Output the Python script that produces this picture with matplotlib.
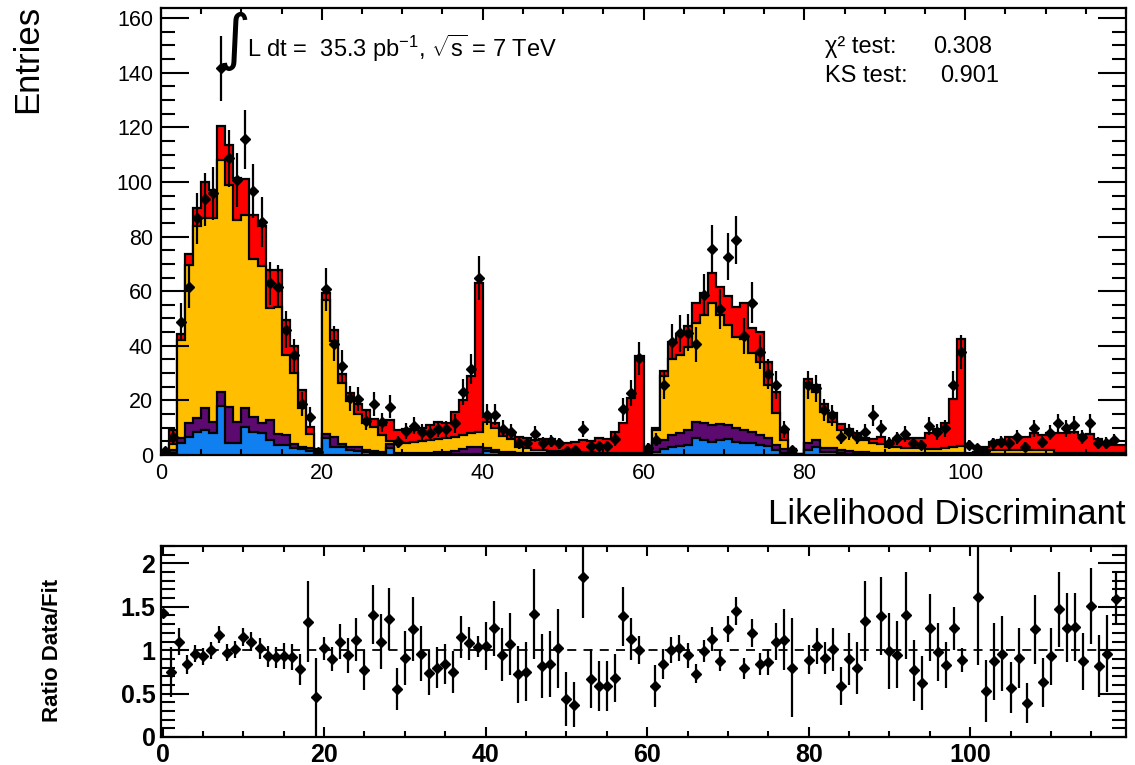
import numpy as np
import matplotlib
matplotlib.use("Agg")
import matplotlib.pyplot as plt
from matplotlib.ticker import MultipleLocator, FixedLocator, FuncFormatter

plt.rcParams['font.family'] = ['Liberation Sans', 'DejaVu Sans']
plt.rcParams['mathtext.fontset'] = 'custom'
plt.rcParams['mathtext.rm'] = 'Liberation Sans'
plt.rcParams['mathtext.it'] = 'Liberation Sans:italic'
plt.rcParams['mathtext.bf'] = 'Liberation Sans:bold'

# ---------------- data (bins of width 1 from 0 to 120) ----------------
bin_edges = np.arange(0, 121)

# cumulative stack levels
top_total = [
    1.0, 9.0, 44.2, 73.5, 90.3, 100.1, 97.0, 120.5, 113.5, 101.3,
    101.1, 87.9, 83.9, 67.8, 67.8, 49.4, 39.9, 23.8, 10.4, 2.2,
    59.4, 45.8, 29.7, 22.8, 18.7, 16.5, 13.1, 11.0, 12.8, 9.2,
    9.5, 9.2, 9.8, 11.0, 12.0, 11.6, 15.6, 20.0, 29.0, 63.1,
    14.0, 11.8, 9.2, 7.8, 6.5, 6.1, 5.5, 5.9, 6.0, 4.5,
    4.3, 4.9, 5.5, 5.2, 6.3, 6.0, 8.5, 11.8, 21.0, 36.3,
    1.0, 9.8, 30.8, 41.5, 44.3, 47.2, 55.8, 59.2, 66.5, 61.4,
    58.3, 54.3, 55.5, 46.4, 45.2, 34.2, 23.2, 8.5, 2.1, 0.4,
    28.0, 25.6, 18.7, 15.3, 11.3, 9.4, 7.9, 6.4, 5.7, 6.7,
    4.9, 6.0, 5.7, 6.1, 6.1, 8.2, 9.4, 11.6, 20.5, 42.5,
    0.6, 1.2, 2.8, 4.9, 5.5, 6.7, 6.7, 6.7, 7.9, 7.3,
    8.0, 8.0, 8.0, 8.6, 7.3, 7.7, 5.7, 4.7, 3.7, 3.7]

top_orange = [
    0.6, 4.0, 42.1, 69.6, 83.9, 86.7, 86.7, 108.0, 98.9, 86.1,
    87.9, 71.7, 69.2, 53.7, 54.1, 36.6, 30.2, 17.1, 7.6, 1.0,
    56.8, 41.9, 26.5, 19.9, 15.0, 11.6, 10.4, 7.3, 5.0, 4.9,
    4.5, 4.9, 5.1, 5.5, 5.7, 6.1, 6.7, 7.3, 7.9, 8.6,
    12.2, 9.8, 7.0, 5.8, 3.0, 2.5, 2.0, 1.8, 1.5, 1.5,
    1.2, 1.2, 1.0, 1.0, 0.9, 0.9, 0.9, 0.9, 0.9, 0.9,
    0.6, 9.2, 28.9, 35.0, 36.6, 39.7, 48.5, 51.3, 55.8, 51.3,
    47.6, 43.3, 42.4, 37.2, 34.2, 25.6, 15.3, 5.5, 1.6, 0.3,
    26.2, 23.2, 15.9, 12.2, 9.2, 7.9, 6.5, 5.5, 4.3, 4.0,
    3.0, 2.8, 2.7, 2.4, 2.4, 2.1, 2.1, 2.4, 3.0, 3.3,
    0.45, 0.7, 0.8, 1.8, 1.8, 1.9, 1.9, 1.9, 1.9, 1.8,
    1.8, 0.9, 0.9, 0.9, 0.9, 0.9, 0.9, 0.8, 0.8, 0.8]

top_purple = [
    0.3, 2.0, 6.1, 11.6, 13.4, 17.1, 12.2, 23.2, 17.7, 12.2,
    17.1, 14.0, 11.6, 12.8, 7.7, 7.3, 3.9, 3.1, 2.5, 0.6,
    7.6, 6.7, 4.0, 3.0, 2.8, 2.0, 1.4, 1.1, 4.0, 0.8,
    0.8, 0.8, 0.8, 0.9, 1.0, 1.2, 1.5, 2.2, 2.8, 3.0,
    2.5, 2.0, 1.2, 1.0, 0.8, 0.7, 0.7, 0.6, 0.6, 0.6,
    0.5, 0.5, 0.5, 0.5, 0.5, 0.5, 0.5, 0.5, 0.5, 0.5,
    0.4, 4.5, 5.5, 7.3, 7.9, 9.1, 12.2, 11.8, 11.0, 11.4,
    11.0, 9.8, 9.1, 8.5, 7.3, 6.1, 3.7, 2.1, 0.8, 0.2,
    4.5, 5.5, 2.7, 2.4, 1.8, 1.5, 1.2, 1.0, 0.9, 0.7,
    0.7, 0.7, 0.7, 0.7, 0.7, 0.7, 0.7, 0.7, 0.7, 0.7,
    0.35, 0.5, 0.5, 0.5, 0.5, 0.5, 0.5, 0.5, 0.5, 0.5,
    0.5, 0.5, 0.5, 0.5, 0.5, 0.5, 0.5, 0.5, 0.5, 0.5]

top_blue = [
    0.1, 0.8, 4.3, 6.7, 8.6, 9.2, 8.0, 18.0, 4.3, 4.3,
    10.4, 8.6, 8.0, 5.5, 3.7, 3.7, 2.5, 2.1, 1.6, 0.3,
    6.1, 3.1, 2.8, 2.0, 1.5, 1.2, 0.8, 0.6, 2.5, 0.3,
    0.3, 0.3, 0.3, 0.3, 0.3, 0.3, 0.3, 0.3, 0.3, 0.3,
    1.5, 1.0, 0.5, 0.3, 0.3, 0.3, 0.3, 0.3, 0.3, 0.3,
    0.3, 0.3, 0.3, 0.3, 0.3, 0.3, 0.3, 0.3, 0.3, 0.3,
    0.3, 1.2, 2.1, 3.0, 3.3, 3.7, 6.1, 5.5, 4.9, 5.5,
    5.7, 4.9, 4.5, 4.3, 3.7, 3.3, 1.8, 0.9, 0.4, 0.1,
    2.0, 2.8, 1.2, 1.0, 0.8, 0.4, 0.4, 0.4, 0.4, 0.4,
    0.4, 0.4, 0.4, 0.4, 0.4, 0.4, 0.4, 0.4, 0.4, 0.4,
    0.2, 0.3, 0.3, 0.3, 0.3, 0.3, 0.3, 0.3, 0.3, 0.3,
    0.3, 0.3, 0.3, 0.3, 0.3, 0.3, 0.3, 0.3, 0.3, 0.3]

data_counts = [
    1.4, 6.7, 48.8, 61.6, 86.7, 93.6, 95.8, 141.7, 108.6, 100.7,
    115.6, 96.8, 85.4, 62.9, 61.6, 45.8, 36.6, 18.7, 13.8, 1.0,
    60.7, 40.7, 32.6, 20.8, 20.5, 12.6, 18.6, 12.0, 17.7, 4.9,
    8.8, 10.8, 8.6, 7.9, 9.5, 9.5, 11.6, 23.0, 31.5, 64.7,
    14.7, 14.7, 9.6, 8.5, 4.5, 4.3, 7.7, 4.5, 5.1, 4.3,
    1.6, 1.8, 9.5, 3.4, 3.4, 3.4, 5.7, 16.7, 22.6, 35.4,
    2.6, 5.6, 25.6, 41.5, 44.5, 44.8, 40.6, 58.6, 75.6, 53.5,
    72.6, 78.7, 43.6, 55.8, 37.8, 29.7, 25.6, 9.4, 1.8, np.nan,
    25.6, 24.4, 16.5, 14.6, 6.7, 8.5, 6.7, 8.5, 14.6, 9.8,
    4.5, 6.1, 7.7, 4.5, 3.7, 10.6, 8.5, 9.8, 25.6, 37.8,
    3.7, 2.4, 1.5, 4.3, 4.9, 4.3, 6.7, 3.0, 9.8, 4.9,
    8.2, 11.6, 9.8, 11.0, 6.7, 11.6, 4.5, 4.5, 5.5, np.nan]

# ratio panel (points drawn at the bin index)
ratio_x = np.arange(119)
ratio_val = [
    1.43, 0.75, 1.10, 0.84, 0.96, 0.93, 1.00, 1.18, 0.97, 1.01,
    1.15, 1.10, 1.02, 0.93, 0.92, 0.93, 0.92, 0.78, 1.33, 0.46,
    1.02, 0.90, 1.10, 0.94, 1.12, 0.77, 1.41, 1.10, 1.36, 0.55,
    0.91, 1.24, 0.96, 0.74, 0.80, 0.84, 0.75, 1.15, 1.08, 1.04,
    1.05, 1.25, 0.95, 1.07, 0.72, 0.75, 1.42, 0.82, 0.84, 1.02,
    0.44, 0.37, 1.84, 0.67, 0.59, 0.59, 0.68, 1.39, 1.13, 1.00,
    np.nan, 0.59, 0.84, 1.00, 1.02, 0.94, 0.73, 0.99, 1.13, 0.88,
    1.24, 1.45, 0.79, 1.20, 0.84, 0.86, 1.10, 1.12, 0.80, np.nan,
    0.89, 1.05, 0.91, 1.01, 0.59, 0.90, 0.79, 1.34, np.nan, 1.39,
    0.99, 0.95, 1.40, 0.77, 0.62, 1.26, 0.98, 0.83, 1.25, 0.89,
    np.nan, 1.61, 0.53, 0.87, 0.96, 0.57, 0.91, 0.39, 1.24, 0.63,
    0.93, 1.47, 1.26, 1.27, 0.87, 1.51, 0.82, 0.96, 1.59]
ratio_err = [
    0.00, 0.29, 0.16, 0.11, 0.10, 0.10, 0.10, 0.10, 0.10, 0.10,
    0.10, 0.11, 0.12, 0.12, 0.12, 0.15, 0.15, 0.18, 0.47, 0.45,
    0.13, 0.14, 0.20, 0.20, 0.25, 0.23, 0.34, 0.32, 0.36, 0.24,
    0.31, 0.37, 0.32, 0.26, 0.24, 0.23, 0.24, 0.24, 0.19, 0.12,
    0.28, 0.32, 0.31, 0.36, 0.33, 0.34, 0.52, 0.37, 0.38, 0.46,
    0.31, 0.26, 0.47, 0.34, 0.29, 0.29, 0.28, 0.34, 0.24, 0.16,
    np.nan, 0.24, 0.17, 0.15, 0.15, 0.14, 0.11, 0.13, 0.14, 0.12,
    0.15, 0.16, 0.12, 0.16, 0.13, 0.15, 0.21, 0.35, 0.57, np.nan,
    0.17, 0.21, 0.19, 0.25, 0.22, 0.30, 0.30, 0.46, np.nan, 0.45,
    0.44, 0.39, 0.50, 0.35, 0.31, 0.39, 0.33, 0.26, 0.25, 0.14,
    np.nan, 0.78, 0.36, 0.44, 0.43, 0.29, 0.35, 0.23, 0.40, 0.28,
    0.33, 0.43, 0.40, 0.39, 0.33, 0.44, 0.36, 0.44, 0.30]

lumi_text = r"L dt =  35.3 pb$^{-1}$, $\sqrt{\mathrm{s}}$ = 7 TeV"
chi2_label, chi2_value = "χ² test:", "0.308"
ks_label, ks_value = "KS test:", "0.901"

colors = {"total": "#ff0000", "orange": "#ffbf00", "purple": "#5c0a70", "blue": "#1080f0"}

# ---------------- figure ----------------
W, H = 1135, 765
fig = plt.figure(figsize=(W / 100, H / 100), dpi=100)
ax = fig.add_axes([161 / W, 1 - 455 / H, 965 / W, 447 / H])
ax2 = fig.add_axes([161 / W, 1 - 737 / H, 965 / W, 191 / H])

def fpos(x, y):
    return x / W, 1 - y / H

# stacked histogram, ROOT style (filled levels with black outlines)
for level, key in [(top_total, "total"), (top_orange, "orange"),
                   (top_purple, "purple"), (top_blue, "blue")]:
    ax.stairs(level, bin_edges, baseline=0, fill=True, color=colors[key], lw=0)
    ax.stairs(level, bin_edges, baseline=0, fill=False, color="black", lw=1.6)

centers = bin_edges[:-1] + 0.5
d = np.array(data_counts, dtype=float)
ax.errorbar(centers, d, yerr=np.sqrt(d), fmt="D", color="black", ms=4.6,
            elinewidth=1.6, capsize=0, zorder=5)

ax.set_xlim(0, 120)
ax.set_ylim(0, 163.7)
ax.xaxis.set_major_locator(FixedLocator([0, 20, 40, 60, 80, 100]))
ax.xaxis.set_minor_locator(MultipleLocator(5))
ax.yaxis.set_major_locator(MultipleLocator(20))
ax.yaxis.set_minor_locator(MultipleLocator(5))
ax.tick_params(which="both", direction="in", top=True, right=True, width=1.5,
               labelsize=15.5, pad=5.8)
ax.tick_params(axis="y", which="major", length=20)
ax.tick_params(axis="y", which="minor", length=10)
ax.tick_params(axis="x", which="major", length=8.5)
ax.tick_params(axis="x", which="minor", length=4.3)
for s in ax.spines.values():
    s.set_linewidth(1.6)

# ratio panel
ax2.axhline(1.0, color="black", lw=1.3, ls=(0, (5, 4)), zorder=1)
ax2.errorbar(ratio_x, ratio_val, yerr=ratio_err, fmt="D", color="black", ms=4.6,
             elinewidth=1.6, capsize=0, zorder=5)
ax2.set_xlim(-0.2, 119.3)
ax2.set_ylim(0, 2.2)
ax2.xaxis.set_major_locator(FixedLocator([0, 20, 40, 60, 80, 100]))
ax2.xaxis.set_minor_locator(MultipleLocator(5))
ax2.yaxis.set_major_locator(FixedLocator([0, 0.5, 1, 1.5, 2]))
ax2.yaxis.set_minor_locator(MultipleLocator(0.1))
ax2.yaxis.set_major_formatter(FuncFormatter(lambda v, p: "%g" % v))
ax2.tick_params(which="both", direction="in", top=True, right=True, width=1.5,
                labelsize=18, pad=4)
ax2.tick_params(axis="y", which="major", length=20)
ax2.tick_params(axis="y", which="minor", length=10)
ax2.tick_params(axis="x", which="major", length=7.5)
ax2.tick_params(axis="x", which="minor", length=4)
for lab in ax2.get_xticklabels() + ax2.get_yticklabels():
    lab.set_fontweight("bold")
for s in ax2.spines.values():
    s.set_linewidth(1.6)

# texts
fig.text(*fpos(28, 5), "Entries", rotation=90, ha="center", va="top", fontsize=25)
fig.text(*fpos(1125, 515), "Likelihood Discriminant", ha="right", va="center", fontsize=25)
fig.text(*fpos(52, 650), "Ratio Data/Fit", rotation=90, ha="center", va="center",
         fontsize=16, fontweight="bold")
fig.text(*fpos(234, 41), "∫", family="DejaVu Sans", fontsize=44, ha="center", va="center")
fig.text(*fpos(247, 57), lumi_text, ha="left", va="baseline", fontsize=17)
fig.text(*fpos(825, 53), chi2_label, ha="left", va="baseline", fontsize=17)
fig.text(*fpos(992, 53), chi2_value, ha="right", va="baseline", fontsize=17)
fig.text(*fpos(825, 82), ks_label, ha="left", va="baseline", fontsize=17)
fig.text(*fpos(999, 82), ks_value, ha="right", va="baseline", fontsize=17)

fig.savefig("out.png", dpi=100)
